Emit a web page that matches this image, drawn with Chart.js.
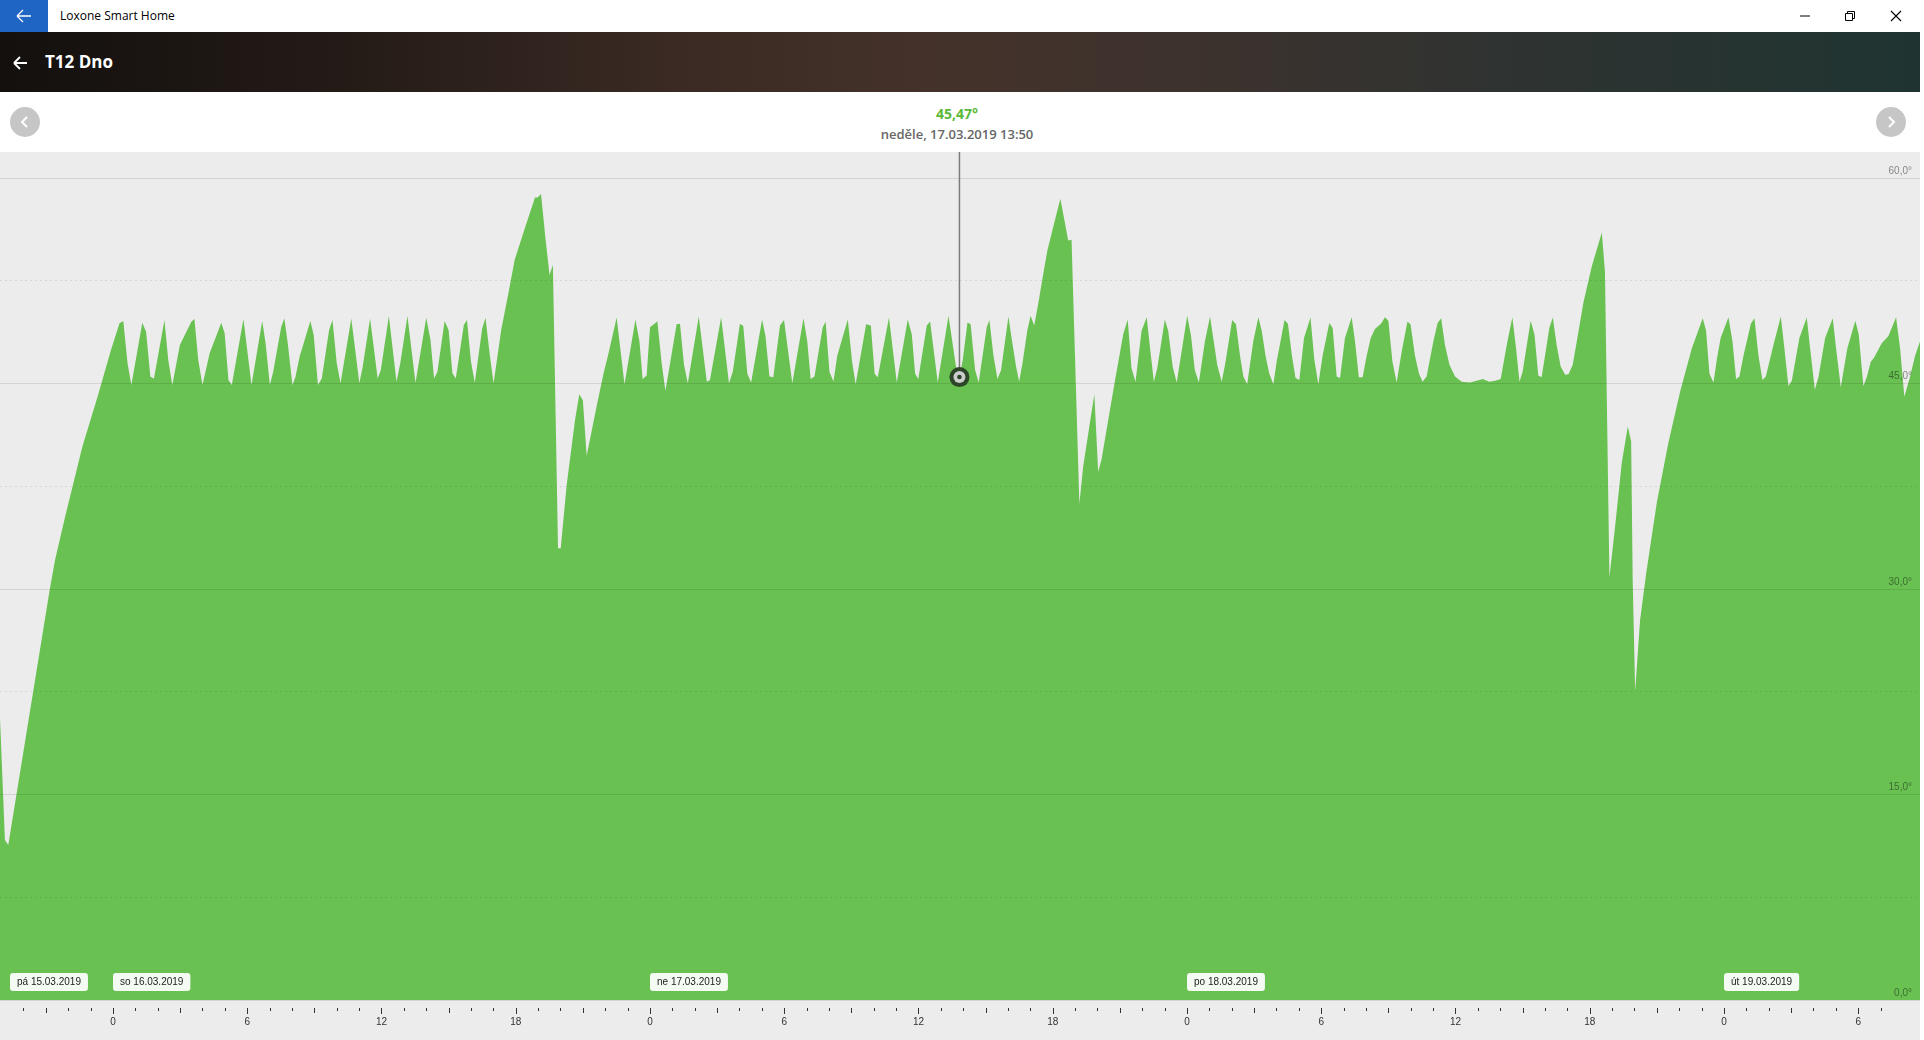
<!DOCTYPE html>
<html>
<head>
<meta charset="utf-8">
<title>T12 Dno</title>
<script src="https://cdn.jsdelivr.net/npm/chart.js@4.4.1/dist/chart.umd.min.js"></script>
<style>
  html, body { margin: 0; padding: 0; width: 1924px; height: 1040px; overflow: hidden; background: #fff; font-family: 'Open Sans', 'Noto Sans', sans-serif; }
  #titlebar { position: absolute; left: 0; top: 0; width: 1924px; height: 32px; background: #fff; }
  #titlebar .back { position: absolute; left: 0; top: 0; width: 48px; height: 32px; background: #1f66c4; }
  #titlebar .name { position: absolute; left: 60px; top: 7px; font-size: 12px; color: #000; }
  #titlebar svg { position: absolute; }
  #header { position: absolute; left: 0; top: 32px; width: 1920px; height: 60px;
    background: linear-gradient(90deg, #13100e 0%, #241b17 18%, #3a2a23 35%, #44322a 48%, #3d322d 62%, #2f3331 78%, #1f3431 100%); }
  #header .title { position: absolute; left: 45px; top: 18px; font-size: 17px; font-weight: 700; color: #fff; }
  #header svg { position: absolute; left: 12px; top: 22px; }
  #info { position: absolute; left: 0; top: 92px; width: 1920px; height: 60px; background: #fff; }
  .nav { position: absolute; top: 15px; width: 30px; height: 30px; border-radius: 50%; background: #c6c6c6; }
  .nav svg { position: absolute; left: 0; top: 0; }
  #value { position: absolute; left: 0; width: 1914px; top: 12px; text-align: center; font-size: 14px; font-weight: 700; color: #5cb937; }
  #date { position: absolute; left: 0; width: 1914px; top: 33px; text-align: center; font-size: 13px; font-weight: 600; color: #666; }
  #chartBox { position: absolute; left: 0; top: 152px; width: 1920px; height: 888px; background: #ececec; }
</style>
</head>
<body>
<div id="titlebar">
  <div class="back">
    <svg width="48" height="32" style="left:0;top:0"><path d="M17 16 H31 M17 16 L23 10 M17 16 L23 22" stroke="#fff" stroke-width="1.3" fill="none"/></svg>
  </div>
  <div class="name">Loxone Smart Home</div>
  <svg width="12" height="12" style="left:1799px;top:10px"><path d="M1 6 H11" stroke="#000" stroke-width="1"/></svg>
  <svg width="12" height="12" style="left:1844px;top:10px"><path d="M1.5 3.5 H8.5 V10.5 H1.5 Z M3.5 3.5 V1.5 H10.5 V8.5 H8.5" stroke="#000" stroke-width="1" fill="none"/></svg>
  <svg width="12" height="12" style="left:1890px;top:10px"><path d="M1 1 L11 11 M11 1 L1 11" stroke="#000" stroke-width="1.1"/></svg>
</div>
<div id="header">
  <svg width="18" height="18"><path d="M2 9 H15 M2 9 L8 3 M2 9 L8 15" stroke="#fff" stroke-width="1.8" fill="none"/></svg>
  <div class="title">T12 Dno</div>
</div>
<div id="info">
  <div class="nav" style="left:10px"><svg width="30" height="30"><path d="M17 10 L12 15 L17 20" stroke="#fff" stroke-width="2" fill="none"/></svg></div>
  <div id="value">45,47°</div>
  <div id="date">neděle, 17.03.2019 13:50</div>
  <div class="nav" style="left:1876px"><svg width="30" height="30"><path d="M13 10 L18 15 L13 20" stroke="#fff" stroke-width="2" fill="none"/></svg></div>
</div>
<div id="chartBox"><canvas id="chart"></canvas></div>

<script>
// hours counted from 15.03.2019 00:00
const times = [
  18.95, 19.17, 19.32, 21.17, 21.41, 21.86, 22.63, 23.31, 23.91, 24.29, 24.46, 24.65, 24.82,
  25.31, 25.48, 25.67, 25.83, 26.30, 26.47, 26.65, 26.99, 27.50, 27.64, 27.81, 28.00,
  28.32, 28.84, 28.99, 29.16, 29.31, 29.83, 30.19, 30.67, 30.82, 31.01, 31.16, 31.52,
  31.66, 31.81, 32.02, 32.15, 32.34, 32.82, 32.97, 33.16, 33.33, 33.66, 33.81, 34.00,
  34.17, 34.65, 35.01, 35.16, 35.49, 35.83, 35.97, 36.33, 36.67, 36.84, 37.16, 37.52,
  38.00, 38.19, 38.35, 38.50, 38.82, 39.00, 39.17, 39.32, 39.68, 39.82, 40.00, 40.17,
  40.50, 40.65, 40.84, 41.01, 41.35, 41.70, 41.95, 42.38, 42.86, 42.98, 43.13, 43.32,
  43.51, 43.66, 43.89, 44.01, 44.28, 44.65, 44.84, 45.00, 45.17, 45.62, 45.92, 46.14,
  46.51, 46.86, 47.35, 47.53, 47.67, 47.85, 48.00, 48.20, 48.33, 48.52, 48.69, 48.90,
  49.19, 49.34, 49.52, 49.69, 50.18, 50.54, 50.68, 51.18, 51.53, 51.70, 52.02, 52.17,
  52.35, 52.52, 53.01, 53.16, 53.34, 53.51, 53.81, 53.99, 54.36, 54.86, 55.03, 55.18,
  55.35, 55.72, 55.85, 56.02, 56.20, 56.37, 56.84, 57.03, 57.19, 57.66, 57.87, 58.04,
  58.18, 58.68, 59.03, 59.52, 59.70, 59.85, 59.99, 60.37, 60.52, 60.86, 61.34, 61.71,
  61.83, 61.98, 62.19, 62.33, 62.53, 62.69, 63.05, 63.17, 63.35, 63.53, 63.69, 64.02,
  64.16, 64.36, 64.50, 64.65, 64.86, 65.01, 65.17, 65.35, 65.55, 65.76, 66.10, 66.34,
  66.52, 66.69, 66.84, 67.19, 67.36, 67.63, 67.86, 68.03, 68.18, 68.48, 68.78, 69.15,
  69.35, 69.52, 69.70, 69.97, 70.20, 70.37, 70.52, 70.67, 71.01, 71.16, 71.36, 71.54,
  72.01, 72.18, 72.35, 72.53, 72.80, 73.03, 73.35, 73.55, 73.70, 74.02, 74.19, 74.37,
  74.52, 74.69, 74.96, 75.19, 75.34, 75.51, 75.68, 75.86, 76.01, 76.36, 76.51, 76.69,
  76.85, 77.02, 77.23, 77.52, 77.69, 77.87, 78.06, 78.36, 78.51, 78.69, 78.84, 79.06,
  79.36, 79.51, 79.68, 79.85, 80.03, 80.21, 80.40, 80.67, 80.85, 81.00, 81.18, 81.37,
  81.59, 81.85, 81.99, 82.19, 82.37, 82.53, 82.71, 83.01, 83.20, 83.36, 83.53, 83.73,
  83.98, 84.28, 84.65, 84.95, 85.22, 85.51, 85.77, 86.02, 86.29, 86.54, 86.69, 86.86,
  87.00, 87.36, 87.53, 87.70, 87.85, 88.20, 88.35, 88.52, 88.70, 88.90, 89.05, 89.24,
  89.42, 89.72, 90.09, 90.54, 90.68, 90.88, 91.13, 91.43, 91.70, 91.85, 91.92, 92.03,
  92.25, 92.52, 93.00, 93.51, 94.04, 94.56, 95.05, 95.20, 95.35, 95.53, 95.68, 95.85,
  96.20, 96.38, 96.54, 96.69, 96.87, 97.20, 97.36, 97.54, 97.72, 97.87, 98.21, 98.54,
  98.70, 98.88, 99.03, 99.37, 99.70, 99.85, 100.06, 100.22, 100.52, 100.86, 101.01, 101.22,
  101.51, 101.87, 102.02, 102.23, 102.38, 102.56, 102.71, 103.05, 103.35, 103.69, 103.87, 104.06,
  104.31, 104.54, 104.76
];

const temps = [
  20.56, 11.68, 11.32, 29.92, 32.12, 35.28, 40.39, 44.04, 47.44, 49.39, 49.56, 46.47, 44.89,
  49.44, 48.78, 45.50, 45.37, 49.63, 46.71, 44.89, 47.81, 49.51, 49.70, 46.71, 44.89,
  47.20, 49.44, 48.66, 45.25, 44.89, 49.70, 44.89, 49.56, 47.93, 44.89, 45.86, 49.14,
  49.75, 47.93, 44.89, 45.45, 46.96, 49.56, 48.54, 44.89, 45.37, 48.90, 49.63, 46.47,
  45.01, 49.75, 45.01, 46.22, 49.75, 45.37, 45.98, 49.92, 45.13, 46.47, 49.92, 45.06,
  49.80, 48.17, 45.37, 45.86, 49.56, 48.90, 45.74, 45.37, 49.27, 49.63, 46.59, 45.06,
  49.02, 49.80, 47.08, 45.01, 48.90, 51.82, 54.01, 56.20, 58.58, 58.58, 58.83, 55.71,
  52.92, 53.65, 32.97, 32.97, 37.64, 42.33, 44.21, 43.77, 39.72, 43.37, 45.72, 47.15,
  49.81, 44.94, 49.68, 48.07, 45.33, 45.59, 49.11, 49.37, 49.55, 46.50, 44.47, 46.50,
  49.32, 49.37, 46.37, 45.02, 49.89, 45.12, 45.25, 49.84, 45.02, 45.85, 49.37, 49.19,
  45.72, 45.07, 49.68, 48.46, 45.51, 45.46, 49.24, 49.63, 45.02, 49.76, 48.07, 45.33,
  45.51, 49.11, 49.50, 45.85, 45.15, 47.02, 49.68, 46.63, 44.94, 49.32, 49.24, 45.72,
  45.46, 49.81, 45.07, 49.68, 48.59, 45.72, 45.33, 49.24, 49.53, 45.07, 49.94, 45.85,
  45.47, 46.76, 49.45, 49.32, 45.98, 45.07, 49.11, 49.63, 47.02, 45.33, 45.98, 49.89,
  48.33, 46.24, 45.15, 46.50, 48.85, 49.94, 49.24, 50.80, 52.76, 54.71, 56.93, 58.49,
  56.93, 55.44, 55.50, 36.21, 38.94, 41.81, 44.21, 38.55, 39.46, 42.33, 45.20, 48.59,
  49.68, 46.11, 45.12, 48.85, 49.84, 47.29, 45.12, 46.11, 49.68, 48.85, 46.24, 45.07,
  49.94, 48.46, 45.98, 45.07, 48.07, 49.89, 46.37, 45.12, 46.37, 49.63, 49.32, 47.02,
  45.51, 44.94, 48.07, 49.84, 48.85, 47.02, 45.72, 44.94, 46.63, 49.63, 49.37, 47.02,
  45.41, 45.25, 48.33, 49.81, 46.76, 44.94, 47.02, 49.42, 49.06, 45.51, 45.41, 48.33,
  49.84, 48.07, 45.46, 45.46, 47.02, 48.33, 48.98, 49.37, 49.84, 49.58, 46.63, 45.07,
  47.29, 49.50, 49.32, 47.02, 45.72, 45.12, 45.51, 48.07, 49.42, 49.76, 47.81, 46.37,
  45.51, 45.12, 45.07, 45.20, 45.33, 45.12, 45.20, 45.33, 47.81, 49.84, 47.81, 45.12,
  45.85, 49.58, 48.59, 45.59, 45.46, 49.11, 49.81, 47.81, 46.24, 45.64, 45.67, 46.37,
  48.07, 50.93, 53.54, 56.02, 53.15, 30.86, 34.51, 39.20, 41.86, 40.77, 30.60, 22.52,
  27.73, 31.12, 36.34, 40.64, 44.42, 47.55, 49.76, 48.85, 45.72, 45.07, 46.76, 48.33,
  49.84, 48.07, 45.33, 45.51, 47.02, 49.37, 49.76, 47.02, 45.25, 45.51, 47.81, 49.89,
  47.55, 44.81, 45.20, 48.33, 49.81, 47.55, 44.55, 45.46, 48.33, 49.76, 47.55, 44.73,
  47.55, 49.58, 48.59, 44.81, 45.46, 46.58, 46.89, 47.94, 48.46, 49.84, 47.55, 44.03,
  45.46, 47.02, 48.07
];

const dayStarts = [0, 24, 48, 72, 96];
const dayLabels = ['pá 15.03.2019', 'so 16.03.2019', 'ne 17.03.2019', 'po 18.03.2019', 'út 19.03.2019'];
const yTickValues = [0, 15, 30, 45, 60];
const hoverTime = 61.83;
const hoverValue = 45.47;

const points = times.map((t, i) => ({ x: t, y: temps[i] }));

// tick marks, day badges and the selected point
const decor = {
  id: 'decor',
  afterDraw(chart) {
    const ctx = chart.ctx;
    const xs = chart.scales.x;
    const ys = chart.scales.y;
    const area = chart.chartArea;

    ctx.save();
    ctx.strokeStyle = '#333';
    ctx.lineWidth = 1;
    xs.ticks.forEach(t => {
      const v = t.value;
      if (Math.abs(v - Math.round(v)) > 1e-6) return;
      const h = Math.round(v);
      const len = h % 6 === 0 ? 6 : (h % 3 === 0 ? 5 : 3);
      const px = Math.round(xs.getPixelForValue(h)) + 0.5;
      ctx.beginPath();
      ctx.moveTo(px, area.bottom + 8);
      ctx.lineTo(px, area.bottom + 8 + len);
      ctx.stroke();
    });

    ctx.font = '10px "Liberation Sans", Arial, sans-serif';
    ctx.textBaseline = 'middle';
    dayStarts.forEach((d, i) => {
      let px = Math.max(xs.getPixelForValue(d), area.left + 10);
      if (px > area.right - 20) return;
      const w = ctx.measureText(dayLabels[i]).width + 14;
      ctx.fillStyle = 'rgba(255,255,255,0.93)';
      ctx.beginPath();
      ctx.roundRect(px, area.bottom - 27, w, 18, 3);
      ctx.fill();
      ctx.fillStyle = '#222';
      ctx.fillText(dayLabels[i], px + 7, area.bottom - 18);
    });

    const hx = xs.getPixelForValue(hoverTime);
    const hy = ys.getPixelForValue(hoverValue);
    ctx.strokeStyle = '#7b7b7b';
    ctx.lineWidth = 1.5;
    ctx.beginPath();
    ctx.moveTo(hx, 0);
    ctx.lineTo(hx, hy - 9);
    ctx.stroke();
    ctx.fillStyle = '#2c4627';
    ctx.beginPath(); ctx.arc(hx, hy, 10, 0, Math.PI * 2); ctx.fill();
    ctx.fillStyle = '#cdcdcd';
    ctx.beginPath(); ctx.arc(hx, hy, 6, 0, Math.PI * 2); ctx.fill();
    ctx.fillStyle = '#2c4627';
    ctx.beginPath(); ctx.arc(hx, hy, 2.3, 0, Math.PI * 2); ctx.fill();
    ctx.restore();
  }
};

new Chart(document.getElementById('chart'), {
  type: 'line',
  data: {
    datasets: [{
      data: points,
      fill: 'origin',
      backgroundColor: '#69c152',
      borderColor: 'rgba(0,0,0,0)',
      borderWidth: 0,
      pointRadius: 0,
      tension: 0
    }]
  },
  options: {
    responsive: true,
    maintainAspectRatio: false,
    animation: false,
    events: [],
    layout: { padding: { top: 26, left: 0, right: 0, bottom: 0 } },
    plugins: { legend: { display: false }, tooltip: { enabled: false } },
    scales: {
      x: {
        type: 'linear',
        min: 18.95,
        max: 104.76,
        grid: { display: false, drawTicks: true, tickLength: 16 },
        border: { display: false },
        ticks: {
          stepSize: 1,
          autoSkip: false,
          maxRotation: 0,
          padding: 0,
          color: '#333',
          font: { size: 10, family: '"Liberation Sans", Arial, sans-serif' },
          callback: v => (Math.abs(v - Math.round(v)) < 1e-6 && Math.round(v) % 6 === 0) ? String(Math.round(v) % 24) : ''
        },
        afterFit: s => { s.height = 40; s.paddingLeft = 0; s.paddingRight = 0; }
      },
      y: {
        type: 'linear',
        position: 'right',
        min: 0,
        max: 60,
        grid: {
          z: 1,
          drawTicks: false,
          color: c => yTickValues.includes(c.tick.value) ? 'rgba(0,0,0,0.1)' : 'rgba(0,0,0,0.09)'
        },
        border: {
          display: false,
          dash: c => (c.tick && yTickValues.includes(c.tick.value)) ? [] : [2, 3]
        },
        ticks: {
          z: 1,
          stepSize: 7.5,
          mirror: true,
          padding: -8,
          labelOffset: -7,
          color: 'rgba(0,0,0,0.45)',
          font: { size: 10, family: '"Liberation Sans", Arial, sans-serif' },
          callback: v => yTickValues.includes(v) ? v.toFixed(1).replace('.', ',') + '°' : ''
        },
        afterFit: s => { s.width = 0; }
      }
    }
  },
  plugins: [decor]
});
</script>
</body>
</html>
